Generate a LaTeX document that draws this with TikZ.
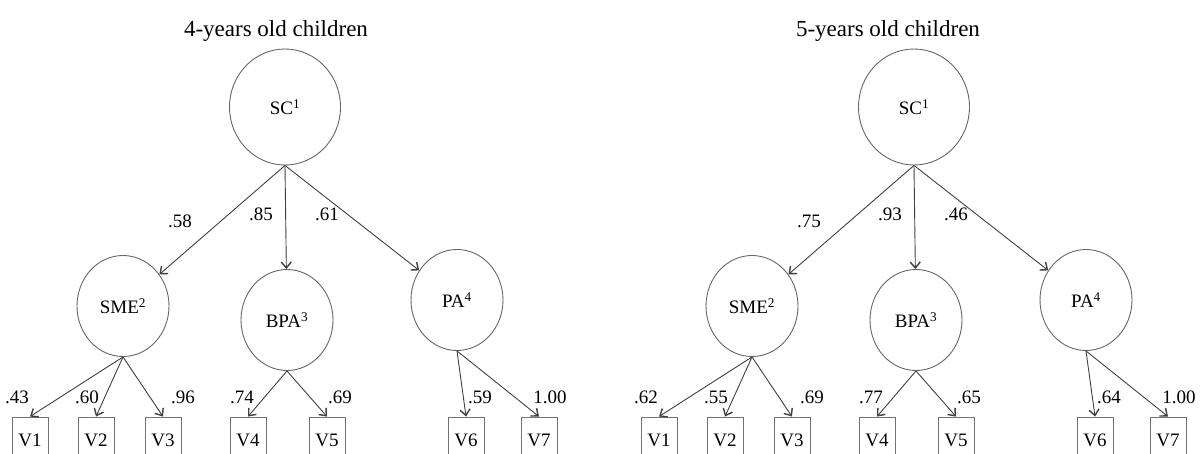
\documentclass[tikz,border=0pt]{standalone}
\usepackage{fontspec}
\setmainfont{Liberation Serif}
\usepackage{tikz}
\usetikzlibrary{shapes.geometric}
\usetikzlibrary{arrows.meta}

\tikzset{
    latent/.style={ellipse, draw=black!60, line width=0.9pt, inner sep=0pt,
        minimum width=92pt, minimum height=101pt, font=\fontsize{19}{21}\selectfont},
    toplatent/.style={latent, minimum width=111pt, minimum height=116pt},
    manifest/.style={rectangle, draw=black!55, line width=0.9pt, inner sep=0pt,
        minimum width=36pt, minimum height=46pt, font=\fontsize{19}{21}\selectfont},
    loading/.style={inner sep=0pt, font=\fontsize{19}{21}\selectfont},
    heading/.style={inner sep=0pt, anchor=base, font=\fontsize{23}{25}\selectfont},
    effect/.style={draw=black!75, line width=0.9pt,
        -{Straight Barb[length=6pt, width=10pt, line width=1.4pt]}}
}

\begin{document}
\begin{tikzpicture}[x=1pt, y=-1pt]
    \path[use as bounding box, clip] (0, 0) rectangle (1202, 453);

    % 4-years old children
    \begin{scope}[name prefix=four-]
        \node[heading] (title) at (276, 36) {4-years old children};

        % The latent factors
        \node[toplatent] (sc) at (285, 107) {SC\textsuperscript{1}};
        \node[latent] (sme) at (123, 306) {SME\textsuperscript{2}};
        \node[latent] (bpa) at (287, 320) {BPA\textsuperscript{3}};
        \node[latent] (pa) at (457, 300) {PA\textsuperscript{4}};

        % The observed variables
        \node[manifest] (v1) at (30, 440) {V1};
        \node[manifest] (v2) at (96, 440) {V2};
        \node[manifest] (v3) at (163, 440) {V3};
        \node[manifest] (v4) at (248, 440) {V4};
        \node[manifest] (v5) at (327, 440) {V5};
        \node[manifest] (v6) at (466, 440) {V6};
        \node[manifest] (v7) at (539, 440) {V7};

        % The paths
        \draw[effect] (sc.south) -- (sme);
        \draw[effect] (sc.south) -- (bpa);
        \draw[effect] (sc.south) -- (pa);
        \draw[effect] (sme.south) -- (v1.north);
        \draw[effect] (sme.south) -- (v2.north);
        \draw[effect] (sme.south) -- (v3.north);
        \draw[effect] (bpa.south) -- (v4.north);
        \draw[effect] (bpa.south) -- (v5.north);
        \draw[effect] (pa.south) -- (v6.north);
        \draw[effect] (pa.south) -- (v7.north);

        % The loadings
        \node[loading] (l-sme) at (180, 221) {.58};
        \node[loading] (l-bpa) at (261, 214) {.85};
        \node[loading] (l-pa) at (327, 214) {.61};
        \node[loading] (l-v1) at (17, 397) {.43};
        \node[loading] (l-v2) at (87, 397) {.60};
        \node[loading] (l-v3) at (183, 397) {.96};
        \node[loading] (l-v4) at (242, 397) {.74};
        \node[loading] (l-v5) at (340, 397) {.69};
        \node[loading] (l-v6) at (480, 397) {.59};
        \node[loading] (l-v7) at (550, 397) {1.00};
    \end{scope}

    % 5-years old children
    \begin{scope}[xshift=629pt, name prefix=five-]
        \node[heading] (title) at (259, 36) {5-years old children};

        % The latent factors
        \node[toplatent] (sc) at (285, 107) {SC\textsuperscript{1}};
        \node[latent] (sme) at (123, 306) {SME\textsuperscript{2}};
        \node[latent] (bpa) at (287, 320) {BPA\textsuperscript{3}};
        \node[latent] (pa) at (457, 300) {PA\textsuperscript{4}};

        % The observed variables
        \node[manifest] (v1) at (30, 440) {V1};
        \node[manifest] (v2) at (96, 440) {V2};
        \node[manifest] (v3) at (163, 440) {V3};
        \node[manifest] (v4) at (248, 440) {V4};
        \node[manifest] (v5) at (327, 440) {V5};
        \node[manifest] (v6) at (466, 440) {V6};
        \node[manifest] (v7) at (539, 440) {V7};

        % The paths
        \draw[effect] (sc.south) -- (sme);
        \draw[effect] (sc.south) -- (bpa);
        \draw[effect] (sc.south) -- (pa);
        \draw[effect] (sme.south) -- (v1.north);
        \draw[effect] (sme.south) -- (v2.north);
        \draw[effect] (sme.south) -- (v3.north);
        \draw[effect] (bpa.south) -- (v4.north);
        \draw[effect] (bpa.south) -- (v5.north);
        \draw[effect] (pa.south) -- (v6.north);
        \draw[effect] (pa.south) -- (v7.north);

        % The loadings
        \node[loading] (l-sme) at (180, 221) {.75};
        \node[loading] (l-bpa) at (261, 214) {.93};
        \node[loading] (l-pa) at (327, 214) {.46};
        \node[loading] (l-v1) at (17, 397) {.62};
        \node[loading] (l-v2) at (87, 397) {.55};
        \node[loading] (l-v3) at (183, 397) {.69};
        \node[loading] (l-v4) at (242, 397) {.77};
        \node[loading] (l-v5) at (340, 397) {.65};
        \node[loading] (l-v6) at (480, 397) {.64};
        \node[loading] (l-v7) at (550, 397) {1.00};
    \end{scope}
\end{tikzpicture}
\end{document}
